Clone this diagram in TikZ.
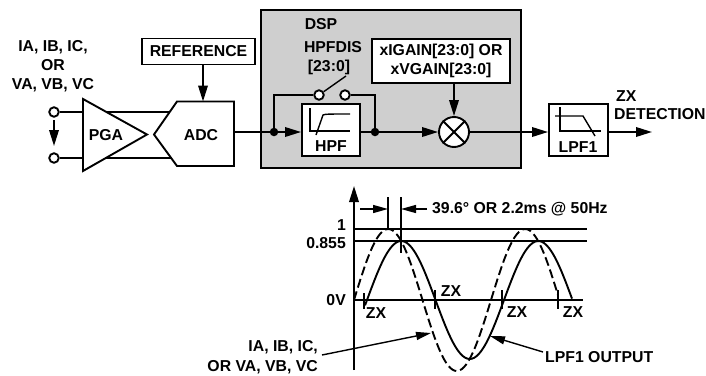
\documentclass[tikz,border=0pt]{standalone}
\usepackage{fontspec}
\setmainfont{Liberation Sans}
\usetikzlibrary{arrows.meta}
\tikzset{
  ln/.style={line width=1.9pt,line join=miter},
  thin line/.style={line width=1.4pt},
  arr/.style={ln,-{Triangle[length=16pt,width=9.5pt]}},
  arrs/.style={thin line,-{Triangle[length=15pt,width=8pt]}},
  lbl/.style={inner sep=0pt,font=\fontsize{15.8}{19}\selectfont\bfseries,align=center},
  boxn/.style={ln,draw,fill=white,inner sep=0pt,minimum width=#1},
  term/.style={circle,ln,draw,fill=white,inner sep=0pt,minimum size=9.5pt},
  dotn/.style={circle,fill=black,inner sep=0pt,minimum size=8.5pt},
}
\begin{document}
\begin{tikzpicture}[x=1pt,y=-1pt]
\useasboundingbox (0,0) rectangle (706,375);
% DSP block
\node[draw,ln,fill=black!19,inner sep=0pt,minimum width=260pt,minimum height=158pt] (dsp) at (391,89) {};
\node[lbl] (dsplbl) at (321,24) {DSP};
\node[lbl] (hpfdis) at (333,47) {HPFDIS};
\node[lbl] (hpfbits) at (329,67) {[23:0]};
% inputs
\node[lbl] (inlbl) at (53,66) {IA, IB, IC,\\OR\\VA, VB, VC};
\node[term] (t1) at (54,112) {};
\node[term] (t2) at (54,158) {};
\coordinate (a1) at (54,120); \coordinate (a2) at (54,146);
\draw[arr] (a1) -- (a2);
% through lines
\coordinate (p1) at (171,112); \coordinate (p2) at (171,158);
\draw[ln] (t1) -- (p1);
\draw[ln] (t2) -- (p2);
% PGA, ADC
\draw[ln,fill=white] (83,99) -- (147,134.5) -- (83,171) -- cycle;
\node[lbl] (pga) at (106,135) {PGA};
\draw[ln,fill=white] (154,134.5) -- (177,101.5) -- (234,101.5) -- (234,166) -- (177,166) -- cycle;
\node[lbl] (adc) at (201,135) {ADC};
\coordinate (adcout) at (234,132);
\coordinate (adctop) at (203,101.5);
% reference
\node[boxn=113pt,minimum height=26pt] (ref) at (198.5,51.5) {};
\node[lbl] at (ref) {REFERENCE};
\draw[arr] (ref.south -| adctop) -- (adctop);
% HPF
\node[boxn=58pt,minimum height=52pt] (hpf) at (331,130) {};
\node[lbl] (hpflbl) at (331,146) {HPF};
\draw[thin line] (310,108) -- (310,131) -- (350,131);
\draw[thin line] (316,135) -- (323,115) .. controls (325,114) and (330,114) .. (350,114);
\node[dotn] (d1) at (274,132) {};
\node[dotn] (d2) at (375,132) {};
\draw[ln] (adcout) -- (d1);
\draw[arr] (d1) -- (hpf.west |- d1);
\draw[ln] (hpf.east |- d2) -- (d2);
% switch
\node[term] (s1) at (319,95) {};
\node[term] (s2) at (345,95) {};
\coordinate (c1) at (274,95); \coordinate (c2) at (375,95);
\coordinate (swend) at (346,76);
\draw[ln] (d1) -- (c1) -- (s1);
\draw[ln] (s2) -- (c2) -- (d2);
\draw[thin line] (s1) -- (swend);
% gain and multiplier
\node[boxn=138pt,minimum height=44pt] (gain) at (441,61) {};
\node[lbl] at (gain) {xIGAIN[23:0] OR\\xVGAIN[23:0]};
\node[circle,ln,draw,fill=white,inner sep=0pt,minimum size=30pt] (mul) at (454,132) {};
\draw[ln] (mul.north west) -- (mul.south east);
\draw[ln] (mul.north east) -- (mul.south west);
\draw[arr] (d2) -- (mul);
\draw[arr] (gain.south -| mul) -- (mul);
% LPF1
\node[boxn=59pt,minimum height=52pt] (lpf) at (578.5,130) {};
\node[lbl] (lpflbl) at (578,147) {LPF1};
\draw[thin line] (560,107) -- (560,131) -- (601,131);
\draw[thin line] (555,116) -- (583,116) -- (595,136);
\draw[arr] (mul) -- (lpf.west |- mul);
\coordinate (zxout) at (652,132);
\draw[arr] (lpf.east |- zxout) -- (zxout);
\node[lbl,anchor=west] (zx) at (616,96) {ZX};
\node[lbl,anchor=west] (det) at (614,114.5) {DETECTION};
% graph
\coordinate (ytop) at (354,186); \coordinate (ybot) at (354,370);
\coordinate (x0) at (354,300); \coordinate (x1) at (583,300);
\draw[arr] (ybot) -- (ytop);
\draw[thin line] (x0) -- (x1);
\draw[thin line] (354,229) coordinate (l1a) -- (587,229) coordinate (l1b);
\draw[thin line] (354,241) coordinate (l2a) -- (587,241) coordinate (l2b);
\draw[thin line] (388,197) coordinate (m1) -- (388,230);
\draw[thin line] (401,197) coordinate (m2) -- (401,253);
\coordinate (ma) at (360,209); \coordinate (mb) at (427,209);
\draw[arrs] (ma) -- (m1 |- ma);
\draw[arrs] (mb) -- (m2 |- mb);
\node[lbl,anchor=west] (deg) at (432,209) {39.6° OR 2.2ms @ 50Hz};
\node[lbl,anchor=east] (one) at (346,225) {1};
\node[lbl,anchor=east] (p855) at (346,243) {0.855};
\node[lbl,anchor=east] (zerov) at (346,300) {0V};
% curves
\draw[ln,dash pattern=on 9pt off 4pt] plot[domain=354:558,samples=90,smooth] (\x,{300-71*sin((\x-354)*2.6277)});
\draw[ln] plot[domain=365:572,samples=90,smooth] (\x,{300-59*sin((\x-367)*2.6277)});
% ticks
\draw[thin line] (364,293) -- (364,309);
\draw[thin line] (435,290) -- (435,309);
\draw[thin line] (502,290) -- (502,309);
\draw[thin line] (558,290) -- (558,309);
\node[lbl] (zx1) at (376,313) {ZX};
\node[lbl] (zx2) at (451,291) {ZX};
\node[lbl] (zx3) at (517,312) {ZX};
\node[lbl] (zx4) at (573,312) {ZX};
% callouts
\node[lbl,anchor=east] (iaa) at (318,347) {IA, IB, IC,};
\node[lbl,anchor=east] (iab) at (318,367) {OR VA, VB, VC};
\node[lbl,anchor=west] (lpo) at (545,357) {LPF1 OUTPUT};
\coordinate (ca) at (322,355); \coordinate (cb) at (431,333);
\coordinate (cc) at (543,352); \coordinate (cd) at (490,336);
\draw[arrs] (ca) -- (cb);
\draw[arrs] (cc) -- (cd);
\end{tikzpicture}
\end{document}
